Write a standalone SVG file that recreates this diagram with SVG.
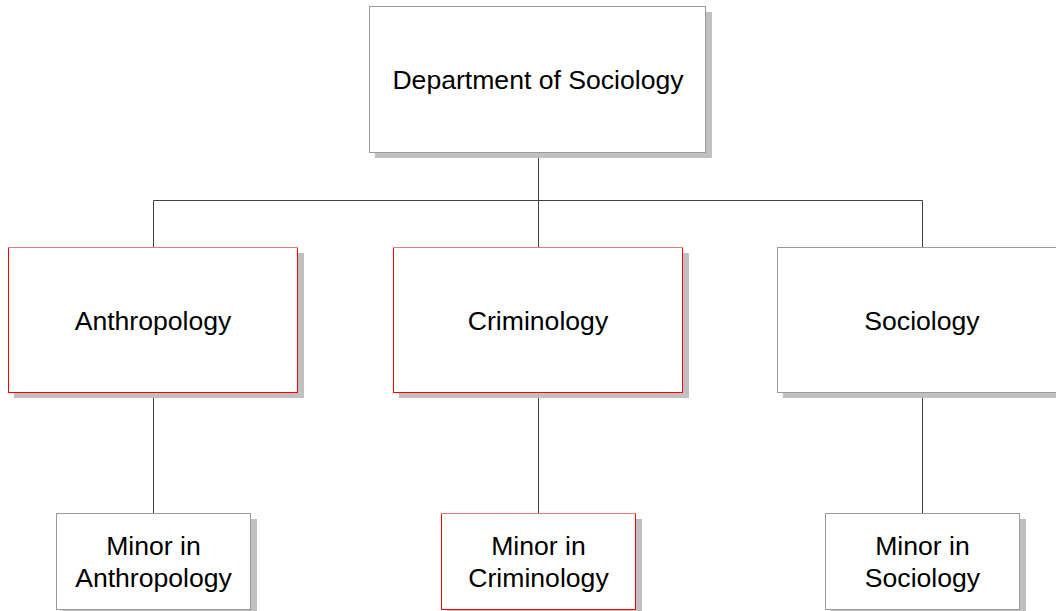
<svg xmlns="http://www.w3.org/2000/svg" width="1056" height="611" viewBox="0 0 1056 611">
<style>
.sh{fill:#c0c0c0}
.box{fill:#ffffff;stroke:#9a9a9a;stroke-width:1}
.rbox{fill:#ffffff;stroke:#ff0000;stroke-width:1}
.rtop{stroke:#f07878;stroke-width:1;fill:none}
.t{font-family:"Liberation Sans",Arial,sans-serif;font-size:26.6px;fill:#000;text-anchor:middle}
.c{stroke:#404040;stroke-width:1;fill:none}
</style>
<rect width="1056" height="611" fill="#ffffff"/>
<g id="connectors">
<path class="c" d="M538.5 152V200.5M153.5 200.5H922.5M153.5 200.5V247M538.5 200.5V247M922.5 200.5V247"/>
<path class="c" d="M153.5 392V513M538.5 392V513M922.5 392V513"/>
</g>
<g id="dept">
<rect class="sh" x="375" y="12" width="337" height="146"/>
<rect class="box" x="369.5" y="6.5" width="336" height="146"/>
<text class="t" x="538" y="89">Department of Sociology</text>
</g>
<g id="anthropology">
<rect class="sh" x="14" y="253" width="290" height="145"/>
<rect class="rbox" x="8.5" y="247.5" width="289" height="145"/>
<path class="rtop" d="M8 247.5H298"/>
<text class="t" x="153" y="330">Anthropology</text>
</g>
<g id="criminology">
<rect class="sh" x="399" y="253" width="290" height="145"/>
<rect class="rbox" x="393.5" y="247.5" width="289" height="145"/>
<path class="rtop" d="M393 247.5H683"/>
<text class="t" x="538" y="330">Criminology</text>
</g>
<g id="sociology">
<rect class="sh" x="783" y="253" width="290" height="145"/>
<rect class="box" x="777.5" y="247.5" width="289" height="145"/>
<text class="t" x="922" y="330">Sociology</text>
</g>
<g id="minor-anthropology">
<rect class="sh" x="62" y="519" width="195" height="96"/>
<rect class="box" x="56.5" y="513.5" width="194" height="96"/>
<text class="t" x="153.5" y="555">Minor in</text>
<text class="t" x="153.5" y="587">Anthropology</text>
</g>
<g id="minor-criminology">
<rect class="sh" x="447" y="519" width="195" height="96"/>
<rect class="rbox" x="441.5" y="513.5" width="194" height="96"/>
<path class="rtop" d="M441 513.5H636"/>
<text class="t" x="538.5" y="555">Minor in</text>
<text class="t" x="538.5" y="587">Criminology</text>
</g>
<g id="minor-sociology">
<rect class="sh" x="831" y="519" width="195" height="96"/>
<rect class="box" x="825.5" y="513.5" width="194" height="96"/>
<text class="t" x="922.5" y="555">Minor in</text>
<text class="t" x="922.5" y="587">Sociology</text>
</g>
</svg>
